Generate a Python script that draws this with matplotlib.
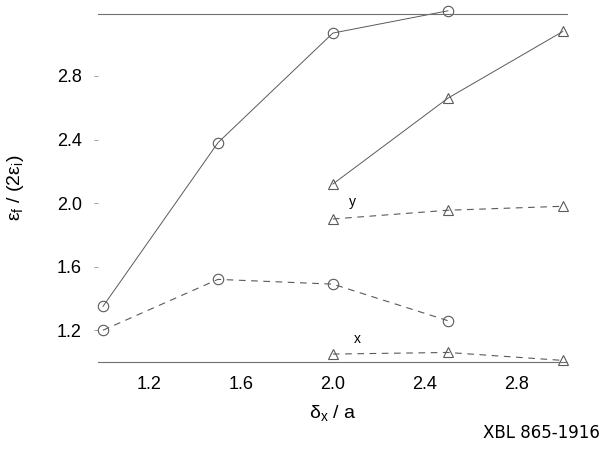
import matplotlib
matplotlib.use("Agg")
import matplotlib.pyplot as plt

# data
x_circ = [1.0, 1.5, 2.0, 2.5]
circ_solid = [1.35, 2.38, 3.07, 3.21]
circ_dash = [1.20, 1.52, 1.49, 1.26]

x_tri = [2.0, 2.5, 3.0]
tri_solid = [2.12, 2.66, 3.08]
tri_y = [1.90, 1.955, 1.98]
tri_x = [1.05, 1.06, 1.01]

xticks = [1.2, 1.6, 2.0, 2.4, 2.8]
yticks = [1.2, 1.6, 2.0, 2.4, 2.8]


def main():
    plt.rcParams["font.family"] = ["Liberation Sans", "DejaVu Sans"]
    plt.rcParams["mathtext.fontset"] = "custom"
    plt.rcParams["mathtext.rm"] = "Liberation Sans"

    fig = plt.figure(figsize=(6.06, 4.49), dpi=100)
    ax = fig.add_axes([98.4 / 606, 87 / 449, 469 / 606, 348 / 449])

    line_col = "#5a5a5a"
    dash = (0, (6, 5))

    ax.plot(x_circ, circ_solid, color=line_col, lw=0.7, marker="o", ms=7.5,
            mfc="none", mec=line_col, mew=0.8, clip_on=False)
    ax.plot(x_circ, circ_dash, color=line_col, lw=0.8, ls=dash, marker="o", ms=7.5,
            mfc="none", mec=line_col, mew=0.8, clip_on=False)
    ax.plot(x_tri, tri_solid, color=line_col, lw=0.7, marker="^", ms=6.5,
            mfc="none", mec=line_col, mew=0.8, clip_on=False)
    ax.plot(x_tri, tri_y, color=line_col, lw=0.8, ls=dash, marker="^", ms=6.5,
            mfc="none", mec=line_col, mew=0.8, clip_on=False)
    ax.plot(x_tri, tri_x, color=line_col, lw=0.8, ls=dash, marker="^", ms=6.5,
            mfc="none", mec=line_col, mew=0.8, clip_on=False)

    ax.text(2.07, 1.96, "y", fontsize=10, ha="left", va="bottom")
    ax.text(2.09, 1.10, "x", fontsize=10, ha="left", va="bottom")

    ax.set_xlim(0.98, 3.02)
    ax.set_ylim(1.0, 3.19)

    for side in ["left", "right"]:
        ax.spines[side].set_visible(False)
    for side in ["top", "bottom"]:
        ax.spines[side].set_color("#707070")
        ax.spines[side].set_linewidth(0.8)

    ax.set_xticks(xticks)
    ax.set_xticklabels([f"{v:.1f}" for v in xticks])
    ax.set_yticks(yticks)
    ax.set_yticklabels([f"{v:.1f}" for v in yticks])
    ax.tick_params(axis="x", length=0, pad=10, labelsize=13)
    ax.tick_params(axis="y", length=3, width=0.6, color="#909090", pad=9,
                   labelsize=13)

    ax.set_xlabel("δ$_{\\mathrm{x}}$ / a", fontsize=14, labelpad=8)
    ax.set_ylabel("ε$_{\\mathrm{f}}$ / (2ε$_{\\mathrm{i}}$)", fontsize=14,
                  labelpad=22)

    fig.text(600 / 606, 1 - 433 / 449, "XBL 865-1916", ha="right", va="center",
             fontsize=12, family=["Liberation Sans Narrow", "DejaVu Sans"])

    fig.savefig("out.png", dpi=100)


if __name__ == "__main__":
    main()
